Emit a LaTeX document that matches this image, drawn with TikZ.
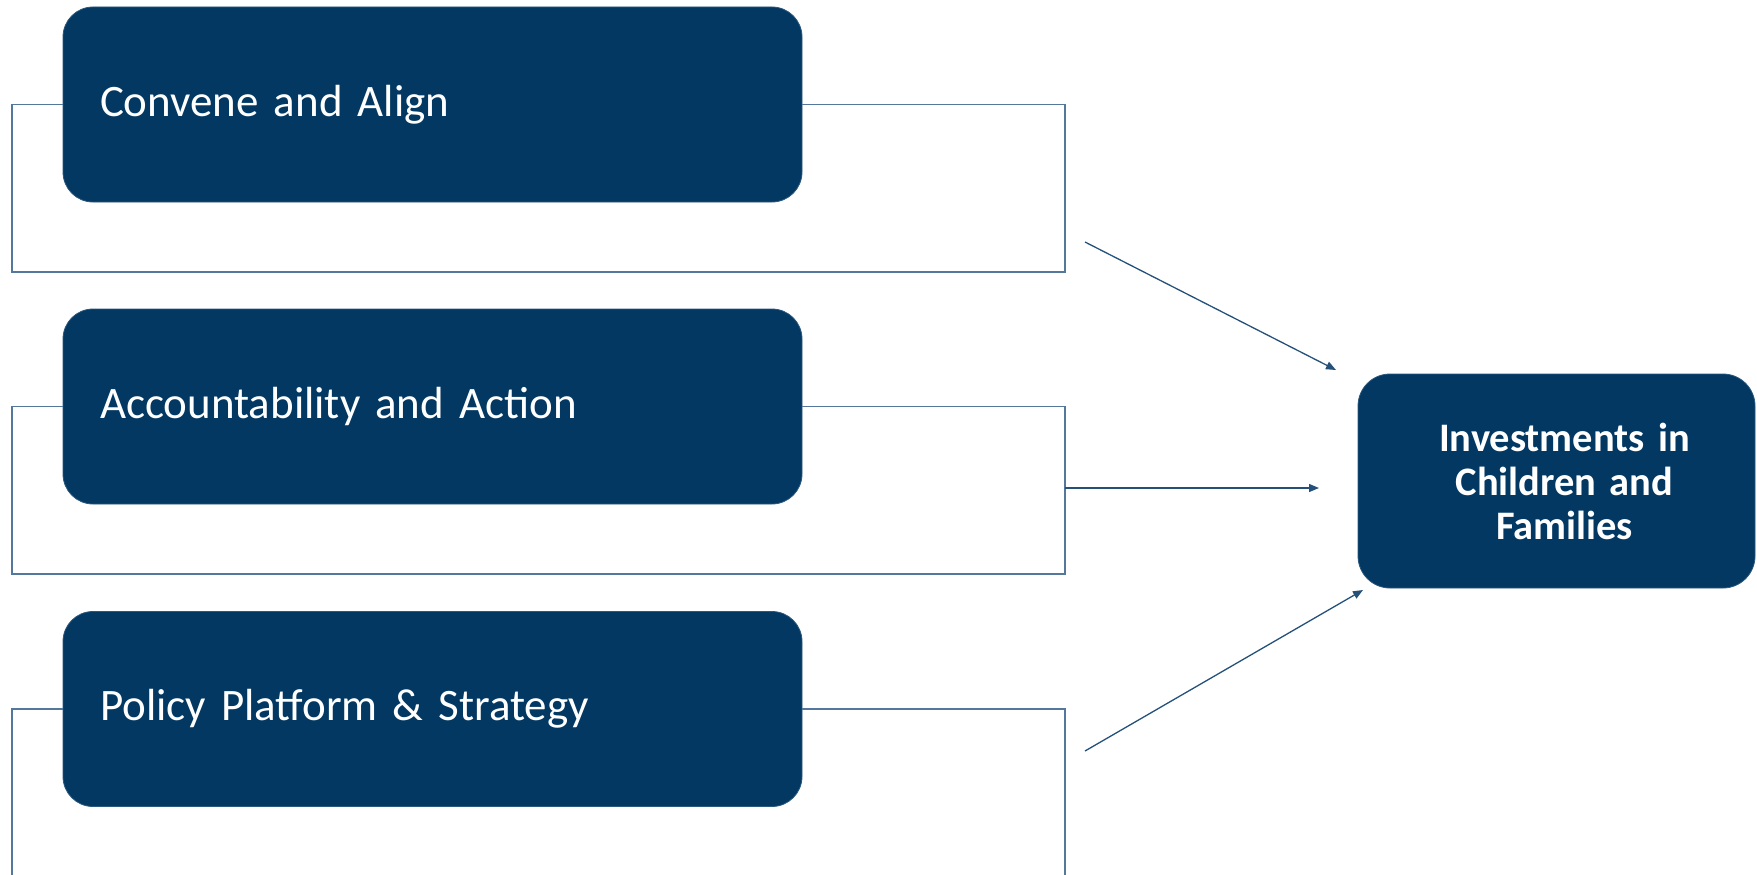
\documentclass[tikz,border=0pt]{standalone}
\usepackage{fontspec}
\setmainfont{Carlito}[WordSpace=0.65]
\usetikzlibrary{arrows.meta}
\definecolor{navy}{RGB}{2,56,98}
\definecolor{bline}{RGB}{84,120,156}
\definecolor{aline}{RGB}{36,80,122}
\begin{document}
\begin{tikzpicture}[x=1pt,y=-1pt,
  pillar/.style={rounded corners=30pt, fill=navy, draw=bline!50!navy, line width=0.8pt,
    minimum width=739pt, minimum height=195pt, text width=665pt, inner xsep=37pt,
    inner ysep=0pt, align=left, text=white, font=\fontsize{45}{54}\selectfont},
  goal/.style={rounded corners=32pt, fill=navy, draw=bline!50!navy, line width=0.8pt,
    minimum width=397pt, minimum height=214pt, text width=380pt, inner xsep=0pt,
    align=center, text=white, font=\fontsize{40.5}{44}\selectfont\bfseries},
  bracket/.style={draw=bline, line width=1.4pt},
  arr/.style={draw=aline, line width=1.3pt, -{Triangle[length=10pt,width=8pt]}}]
\useasboundingbox (0,0) rectangle (1757,875);
\clip (0,0) rectangle (1757,875);
\coordinate (r1) at (1065,272);
\coordinate (r2) at (1065,574);
\coordinate (r3) at (1065,900);
\node[pillar] (p1) at (432.5,104.5) {Convene and Align};
\node[pillar] (p2) at (432.5,406.5) {Accountability and Action};
\node[pillar] (p3) at (432.5,709) {Policy Platform \& Strategy};
\node[goal] (g) at (1556.5,481) {\hspace*{16pt}Investments in\\\hspace*{16pt}Children and\\\hspace*{16pt}Families};
\draw[bracket] (p1.west) -- (12,104.5) |- (r1) |- (p1.east);
\draw[bracket] (p2.west) -- (12,406.5) |- (r2) |- (p2.east);
\draw[bracket] (p3.west) -- (12,709) |- (r3) |- (p3.east);
\coordinate (a1s) at (1085,242);
\coordinate (a1e) at (1336,370);
\coordinate (a2s) at (1065,488);
\coordinate (a2e) at (1319,488);
\coordinate (a3s) at (1085,751);
\coordinate (a3e) at (1363,590);
\draw[arr] (a1s) -- (a1e);
\draw[arr] (a2s) -- (a2e);
\draw[arr] (a3s) -- (a3e);
\end{tikzpicture}
\end{document}
